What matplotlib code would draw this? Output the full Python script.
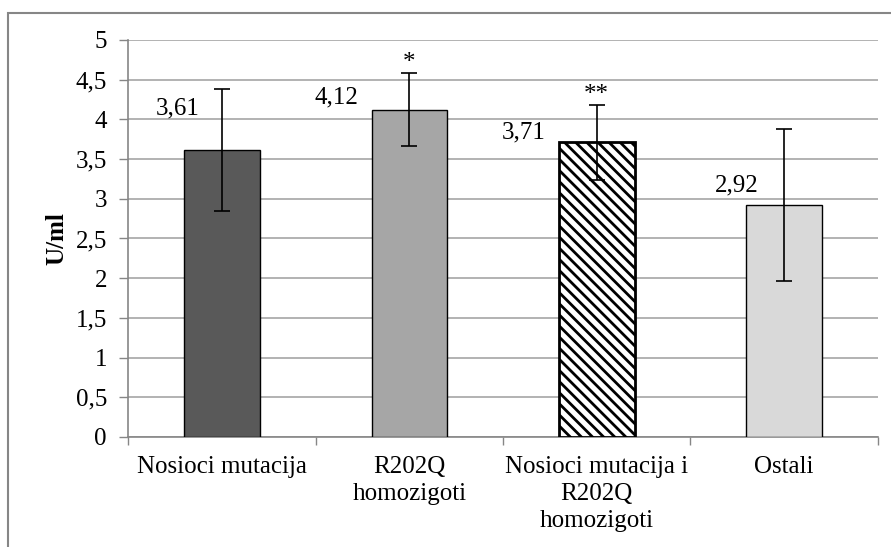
import numpy as np
import matplotlib.pyplot as plt
from matplotlib.patches import Rectangle
from matplotlib.ticker import FixedLocator, FuncFormatter

plt.rcParams['font.family'] = ['Liberation Serif', 'DejaVu Serif']
plt.rcParams['hatch.linewidth'] = 2.0

# group means and errors (U/ml)
groups = ["Nosioci mutacija", "R202Q\nhomozigoti", "Nosioci mutacija i\nR202Q\nhomozigoti", "Ostali"]
means = [3.61, 4.12, 3.71, 2.92]
errors = [0.77, 0.46, 0.47, 0.96]
stars = ["", "*", "**", ""]

fills = ["#595959", "#a6a6a6", "white", "#d9d9d9"]
hatches = [None, None, "\\\\\\", None]
edge_widths = [1.0, 1.0, 2.0, 1.0]
# where each value label sits relative to its bar (x offset, y position)
label_dx = [-0.235, -0.39, -0.39, -0.255]
label_y = [4.14, 4.27, 3.84, 3.17]

fs = 18

fig = plt.figure(figsize=(8.91, 5.47), dpi=100)
ax = fig.add_axes([0.1442, 0.2011, 0.9851 - 0.1442, 0.9269 - 0.2011])

x = np.arange(len(groups))
for i in x:
    ax.bar(i, means[i], width=0.405, color=fills[i], edgecolor="black",
           linewidth=edge_widths[i], hatch=hatches[i], zorder=3)
ax.errorbar(x, means, yerr=errors, fmt="none", ecolor="black", elinewidth=1.2,
            capsize=5.5, capthick=1.2, zorder=4)

for i in x:
    ax.text(i + label_dx[i], label_y[i], f"{means[i]:.2f}".replace(".", ","),
            ha="center", va="center", fontsize=fs)
    if stars[i]:
        ax.text(i, means[i] + errors[i] - 0.01, stars[i], ha="center",
                va="bottom", fontsize=fs)

ax.set_xlim(-0.5, 3.5)
ax.set_ylim(0, 5)
ax.yaxis.set_major_locator(FixedLocator(np.arange(0, 5.01, 0.5)))
ax.yaxis.set_major_formatter(FuncFormatter(lambda v, p: f"{v:g}".replace(".", ",")))
ax.set_xticks(x)
ax.set_xticklabels(groups, fontsize=fs, linespacing=1.28)
ax.set_xticks(np.arange(-0.5, 3.6, 1), minor=True)
ax.tick_params(axis="x", which="major", length=0, pad=14)
ax.tick_params(axis="x", which="minor", length=6, color="#868686", width=1)
ax.tick_params(axis="y", length=6.5, color="#868686", width=1, labelsize=fs, pad=9)

ax.grid(axis="y", color="#a6a6a6", linewidth=1.2, zorder=0)
ax.set_axisbelow(True)
for side in ["top", "right"]:
    ax.spines[side].set_visible(False)
for side in ["left", "bottom"]:
    ax.spines[side].set_color("#868686")
    ax.spines[side].set_linewidth(1.2)

ax.set_ylabel("U/ml", fontsize=fs, fontweight="bold")
ax.yaxis.set_label_coords(-0.08, 0.5)

# chart border
fig.patches.append(Rectangle((8 / 891, -0.1), 1.2, 1 - 13 / 547 + 0.1,
                             transform=fig.transFigure, fill=False,
                             edgecolor="#868686", linewidth=1.5))

fig.savefig("out.png", dpi=100)
